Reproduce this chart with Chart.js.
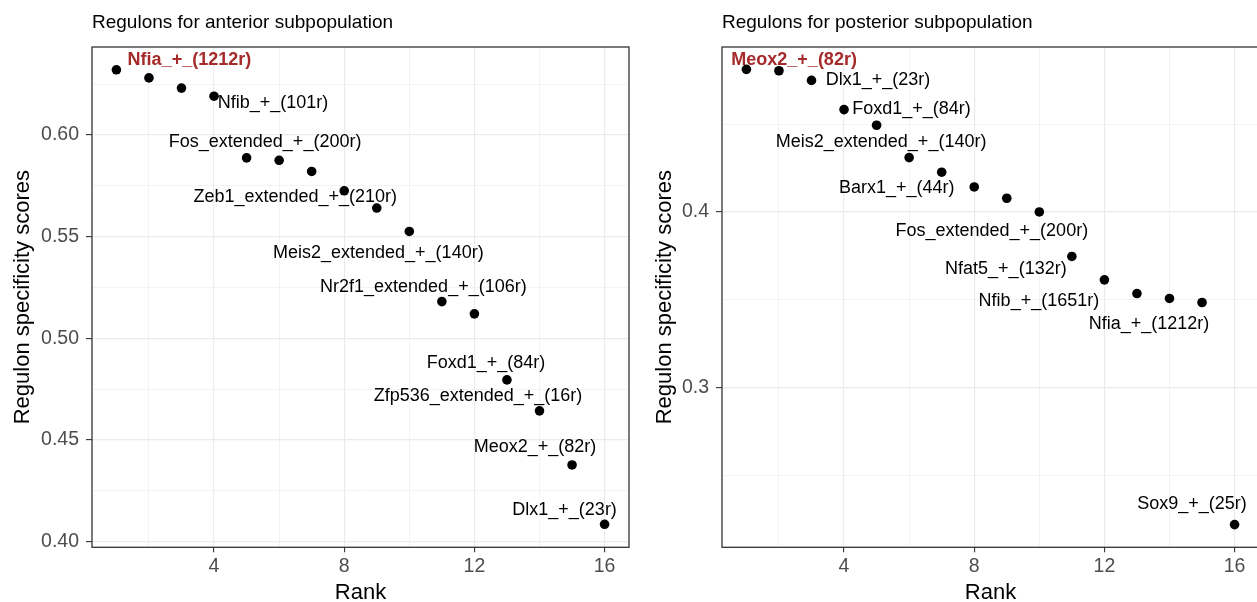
<!DOCTYPE html>
<html>
<head>
<meta charset="utf-8">
<script src="https://cdn.jsdelivr.net/npm/chart.js@4.4.1/dist/chart.umd.min.js"></script>
<style>
  html, body { margin: 0; padding: 0; background: #fff; overflow: hidden; }
  body { width: 1257px; height: 602px; position: relative; }
  canvas { position: absolute; top: 0; }
  #left { left: 0; }
  #right { left: 640px; }
</style>
</head>
<body>
<canvas id="left" width="640" height="602"></canvas>
<canvas id="right" width="625" height="602"></canvas>
<script>
// donnees
const rank = [1, 2, 3, 4, 5, 6, 7, 8, 9, 10, 11, 12, 13, 14, 15, 16];

const anteriorScore = [0.632, 0.628, 0.623, 0.619, 0.5887, 0.5875, 0.582, 0.5725,
  0.564, 0.5525, 0.518, 0.512, 0.4795, 0.4643, 0.4377, 0.4085];
const anteriorLabel = ["Nfia_+_(1212r)", "", "", "Nfib_+_(101r)", "Fos_extended_+_(200r)", "", "",
  "Zeb1_extended_+_(210r)", "", "Meis2_extended_+_(140r)", "Nr2f1_extended_+_(106r)", "",
  "Foxd1_+_(84r)", "Zfp536_extended_+_(16r)", "Meox2_+_(82r)", "Dlx1_+_(23r)"];

const posteriorScore = [0.4811, 0.4803, 0.4748, 0.4582, 0.4493, 0.4309, 0.4226, 0.4142,
  0.4078, 0.4, 0.3747, 0.3614, 0.3536, 0.3508, 0.3485, 0.2222];
const posteriorLabel = ["Meox2_+_(82r)", "", "Dlx1_+_(23r)", "Foxd1_+_(84r)", "Meis2_extended_+_(140r)", "",
  "Barx1_+_(44r)", "", "", "Fos_extended_+_(200r)", "Nfat5_+_(132r)", "Nfib_+_(1651r)", "", "",
  "Nfia_+_(1212r)", "Sox9_+_(25r)"];

const xTicks = [2, 4, 6, 8, 10, 12, 14, 16];
const xMajor = [4, 8, 12, 16];
const anteriorYTicks = [0.4, 0.425, 0.45, 0.475, 0.5, 0.525, 0.55, 0.575, 0.6, 0.625];
const anteriorYMajor = [0.4, 0.45, 0.5, 0.55, 0.6];
const posteriorYTicks = [0.25, 0.3, 0.35, 0.4, 0.45];
const posteriorYMajor = [0.3, 0.4];

// decalage des etiquettes (px, centre du texte par rapport au point)
const anteriorLabelDx = [73, 0, 0, 59, 18.5, 0, 0, -49, 0, -31, -18.5, 0, -21, -61.5, -37, -40];
const anteriorLabelDy = [-10, 0, 0, 7, -16, 0, 0, 6.5, 0, 22, -15, 0, -17, -15, -18, -14];
const posteriorLabelDx = [47.7, 0, 66.5, 67.5, 4.5, 0, -45, 0, 0, -47.5, -66, -65.5, 0, 0, -53, -42.6];
const posteriorLabelDy = [-9.7, 0, 0, -1, 16.7, 0, 16, 0, 0, 19, 13, 21, 0, 0, 22, -20.7];

const FONT = "'Liberation Sans', Arial, Helvetica, sans-serif";
const HILITE = "#A52A2A";

function makePanel(canvasId, title, scores, labels, dx, dy, yTicks, yMajor, yMin, yMax, axisWidth, padRight, yFmt, yTitlePad) {
  const framePlugin = {
    id: "frame",
    beforeDatasetsDraw(chart) {
      // etiquettes des regulons
      const ctx = chart.ctx;
      const pts = chart.getDatasetMeta(0).data;
      ctx.save();
      ctx.textAlign = "center";
      ctx.textBaseline = "middle";
      labels.forEach((txt, i) => {
        if (!txt) return;
        const p = pts[i];
        if (i === 0) {
          ctx.font = "bold 18px " + FONT;
          ctx.fillStyle = HILITE;
        } else {
          ctx.font = "18px " + FONT;
          ctx.fillStyle = "#000";
        }
        ctx.fillText(txt, p.x + dx[i], p.y + dy[i]);
      });
      ctx.restore();
    },
    afterDraw(chart) {
      const ctx = chart.ctx;
      const a = chart.chartArea;
      ctx.save();
      ctx.strokeStyle = "#333333";
      ctx.lineWidth = 1.3;
      ctx.strokeRect(a.left, a.top, a.right - a.left, a.bottom - a.top);
      ctx.fillStyle = "#000";
      ctx.font = "19px " + FONT;
      ctx.textAlign = "left";
      ctx.textBaseline = "alphabetic";
      ctx.fillText(title, a.left, 28);
      ctx.restore();
    }
  };

  return new Chart(document.getElementById(canvasId), {
    type: "scatter",
    data: {
      datasets: [{
        data: rank.map((r, i) => ({ x: r, y: scores[i] })),
        pointRadius: 4.8,
        pointHoverRadius: 4.8,
        backgroundColor: "#000",
        borderWidth: 0
      }]
    },
    options: {
      responsive: false,
      animation: false,
      layout: { padding: { top: 47, right: padRight, left: 0, bottom: 0 } },
      plugins: { legend: { display: false }, tooltip: { enabled: false } },
      scales: {
        x: {
          type: "linear",
          min: 0.25,
          max: 16.75,
          afterBuildTicks: s => { s.ticks = xTicks.map(v => ({ value: v })); },
          afterFit: s => { s.height = 54.7; },
          border: { display: false },
          grid: {
            color: "#EBEBEB",
            lineWidth: c => xMajor.includes(c.tick.value) ? 1.2 : 0.6,
            tickColor: c => xMajor.includes(c.tick.value) ? "#333333" : "rgba(0,0,0,0)",
            tickLength: 5,
            tickWidth: 1.1
          },
          ticks: {
            autoSkip: false,
            maxRotation: 0,
            padding: 3,
            color: "#4D4D4D",
            font: { family: FONT, size: 19.5 },
            callback: v => xMajor.includes(v) ? String(v) : ""
          },
          title: {
            display: true,
            text: "Rank",
            color: "#000",
            font: { family: FONT, size: 22 },
            padding: { top: 0, bottom: -4 }
          }
        },
        y: {
          type: "linear",
          min: yMin,
          max: yMax,
          afterBuildTicks: s => { s.ticks = yTicks.map(v => ({ value: v })); },
          afterFit: s => { s.width = axisWidth; },
          border: { display: false },
          grid: {
            color: "#EBEBEB",
            lineWidth: c => yMajor.includes(c.tick.value) ? 1.2 : 0.6,
            tickColor: c => yMajor.includes(c.tick.value) ? "#333333" : "rgba(0,0,0,0)",
            tickLength: 6,
            tickWidth: 1.1
          },
          ticks: {
            autoSkip: false,
            padding: 7,
            color: "#4D4D4D",
            font: { family: FONT, size: 19.5 },
            callback: v => yMajor.includes(v) ? v.toFixed(yFmt) : ""
          },
          title: {
            display: true,
            text: "Regulon specificity scores",
            color: "#000",
            font: { family: FONT, size: 22 },
            padding: { top: yTitlePad, bottom: 0 }
          }
        }
      }
    },
    plugins: [framePlugin]
  });
}

makePanel("left", "Regulons for anterior subpopulation", anteriorScore, anteriorLabel,
  anteriorLabelDx, anteriorLabelDy, anteriorYTicks, anteriorYMajor, 0.3972, 0.6432, 92, 11, 2, 9.3);
makePanel("right", "Regulons for posterior subpopulation", posteriorScore, posteriorLabel,
  posteriorLabelDx, posteriorLabelDy, posteriorYTicks, posteriorYMajor, 0.2093, 0.4938, 82, 6, 1, 12);
</script>
</body>
</html>
